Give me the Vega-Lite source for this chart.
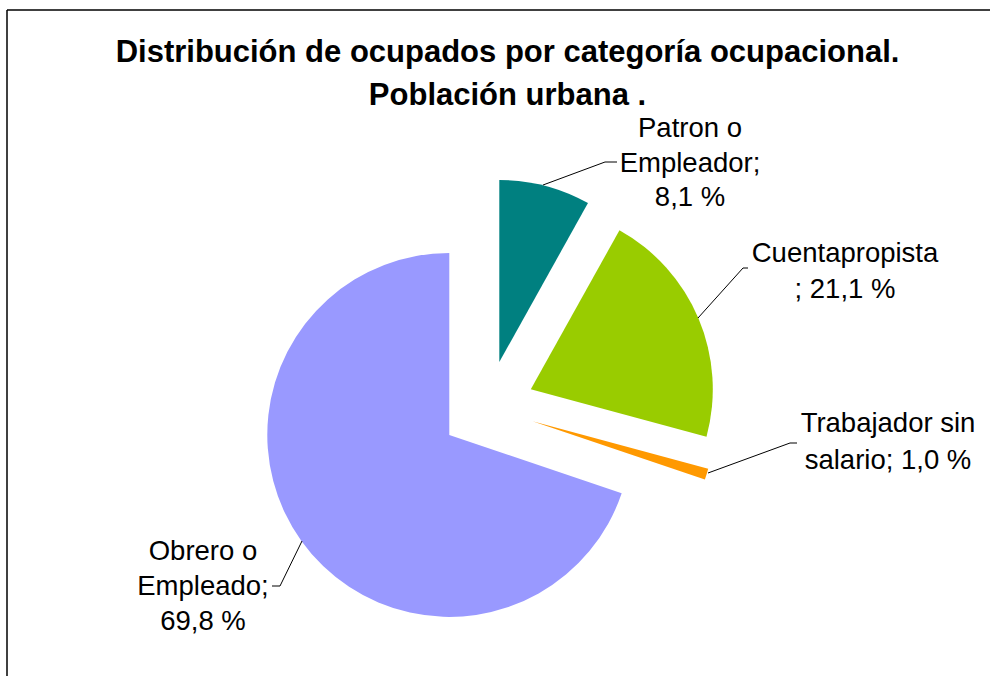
{
  "$schema": "https://vega.github.io/schema/vega-lite/v6.json",
  "width": 983,
  "height": 666,
  "autosize": {"type": "none"},
  "padding": {"left": 7, "top": 10, "right": 0, "bottom": 0},
  "background": "white",
  "config": {"view": {"stroke": null}, "font": "Liberation Sans"},
  "title": {
    "text": ["Distribución de ocupados por categoría ocupacional.", "Población urbana ."],
    "font": "Liberation Sans",
    "fontSize": 31,
    "fontWeight": "bold",
    "color": "black",
    "lineHeight": 43,
    "anchor": "middle",
    "offset": -103,
    "dx": 9
  },
  "data": {
    "values": [
      {"categoria": "Patron o Empleador", "orden": 1, "porcentaje": 8.1, "etiqueta": "Patron o\nEmpleador;\n8,1 %"},
      {"categoria": "Cuentapropista", "orden": 2, "porcentaje": 21.1, "etiqueta": "Cuentapropista\n; 21,1 %"},
      {"categoria": "Trabajador sin salario", "orden": 3, "porcentaje": 1.0, "etiqueta": "Trabajador sin\nsalario; 1,0 %"},
      {"categoria": "Obrero o Empleado", "orden": 4, "porcentaje": 69.8, "etiqueta": "Obrero o\nEmpleado;\n69,8 %"}
    ]
  },
  "transform": [
    {"stack": "porcentaje", "groupby": [], "sort": [{"field": "orden", "order": "ascending"}], "as": ["t0", "t1"]}
  ],
  "layer": [
    {
      "transform": [{"filter": "datum.orden == 1"}],
      "mark": {"type": "arc", "radius": 182, "x": 480.5, "y": 397.5, "xOffset": 11.8, "yOffset": -45.5},
      "encoding": {
        "theta": {"field": "t0", "type": "quantitative", "scale": {"domain": [0, 100]}},
        "theta2": {"field": "t1"},
        "color": {"field": "categoria", "type": "nominal", "legend": null,
          "scale": {"domain": ["Patron o Empleador", "Cuentapropista", "Trabajador sin salario", "Obrero o Empleado"], "range": ["#008080", "#99CC00", "#FF9900", "#9999FF"]}}
      }
    },
    {
      "transform": [{"filter": "datum.orden == 2"}],
      "mark": {"type": "arc", "radius": 182, "x": 480.5, "y": 397.5, "xOffset": 43.3, "yOffset": -18.3},
      "encoding": {
        "theta": {"field": "t0", "type": "quantitative", "scale": {"domain": [0, 100]}},
        "theta2": {"field": "t1"},
        "color": {"field": "categoria", "type": "nominal", "legend": null,
          "scale": {"domain": ["Patron o Empleador", "Cuentapropista", "Trabajador sin salario", "Obrero o Empleado"], "range": ["#008080", "#99CC00", "#FF9900", "#9999FF"]}}
      }
    },
    {
      "transform": [{"filter": "datum.orden == 3"}],
      "mark": {"type": "arc", "radius": 182, "x": 480.5, "y": 397.5, "xOffset": 45.0, "yOffset": 13.7},
      "encoding": {
        "theta": {"field": "t0", "type": "quantitative", "scale": {"domain": [0, 100]}},
        "theta2": {"field": "t1"},
        "color": {"field": "categoria", "type": "nominal", "legend": null,
          "scale": {"domain": ["Patron o Empleador", "Cuentapropista", "Trabajador sin salario", "Obrero o Empleado"], "range": ["#008080", "#99CC00", "#FF9900", "#9999FF"]}}
      }
    },
    {
      "transform": [{"filter": "datum.orden == 4"}],
      "mark": {"type": "arc", "radius": 182, "x": 480.5, "y": 397.5, "xOffset": -38.2, "yOffset": 27.4},
      "encoding": {
        "theta": {"field": "t0", "type": "quantitative", "scale": {"domain": [0, 100]}},
        "theta2": {"field": "t1"},
        "color": {"field": "categoria", "type": "nominal", "legend": null,
          "scale": {"domain": ["Patron o Empleador", "Cuentapropista", "Trabajador sin salario", "Obrero o Empleado"], "range": ["#008080", "#99CC00", "#FF9900", "#9999FF"]}}
      }
    },
    {
      "transform": [{"filter": "datum.orden == 1"}],
      "mark": {"type": "text", "x": 683, "y": 119, "align": "center", "baseline": "middle", "fontSize": 27.5, "lineHeight": 34.5, "lineBreak": "\n", "font": "Liberation Sans", "color": "black"},
      "encoding": {"text": {"field": "etiqueta", "type": "nominal"}}
    },
    {
      "transform": [{"filter": "datum.orden == 2"}],
      "mark": {"type": "text", "x": 838, "y": 244, "align": "center", "baseline": "middle", "fontSize": 27.5, "lineHeight": 36, "lineBreak": "\n", "font": "Liberation Sans", "color": "black"},
      "encoding": {"text": {"field": "etiqueta", "type": "nominal"}}
    },
    {
      "transform": [{"filter": "datum.orden == 3"}],
      "mark": {"type": "text", "x": 881, "y": 414, "align": "center", "baseline": "middle", "fontSize": 27.5, "lineHeight": 37, "lineBreak": "\n", "font": "Liberation Sans", "color": "black"},
      "encoding": {"text": {"field": "etiqueta", "type": "nominal"}}
    },
    {
      "transform": [{"filter": "datum.orden == 4"}],
      "mark": {"type": "text", "x": 196, "y": 542, "align": "center", "baseline": "middle", "fontSize": 27.5, "lineHeight": 35, "lineBreak": "\n", "font": "Liberation Sans", "color": "black"},
      "encoding": {"text": {"field": "etiqueta", "type": "nominal"}}
    },
    {
      "transform": [{"filter": "datum.orden == 1"}],
      "mark": {"type": "rule", "color": "black", "strokeWidth": 1},
      "encoding": {"x": {"value": 536}, "y": {"value": 175}, "x2": {"value": 598}, "y2": {"value": 152}}
    },
    {
      "transform": [{"filter": "datum.orden == 1"}],
      "mark": {"type": "rule", "color": "black", "strokeWidth": 1},
      "encoding": {"x": {"value": 598}, "y": {"value": 152}, "x2": {"value": 610}, "y2": {"value": 152}}
    },
    {
      "transform": [{"filter": "datum.orden == 2"}],
      "mark": {"type": "rule", "color": "black", "strokeWidth": 1},
      "encoding": {"x": {"value": 691}, "y": {"value": 308}, "x2": {"value": 736}, "y2": {"value": 258}}
    },
    {
      "transform": [{"filter": "datum.orden == 2"}],
      "mark": {"type": "rule", "color": "black", "strokeWidth": 1},
      "encoding": {"x": {"value": 736}, "y": {"value": 258}, "x2": {"value": 741}, "y2": {"value": 258}}
    },
    {
      "transform": [{"filter": "datum.orden == 3"}],
      "mark": {"type": "rule", "color": "black", "strokeWidth": 1},
      "encoding": {"x": {"value": 701}, "y": {"value": 463}, "x2": {"value": 783}, "y2": {"value": 433}}
    },
    {
      "transform": [{"filter": "datum.orden == 3"}],
      "mark": {"type": "rule", "color": "black", "strokeWidth": 1},
      "encoding": {"x": {"value": 783}, "y": {"value": 433}, "x2": {"value": 790}, "y2": {"value": 433}}
    },
    {
      "transform": [{"filter": "datum.orden == 4"}],
      "mark": {"type": "rule", "color": "black", "strokeWidth": 1},
      "encoding": {"x": {"value": 295}, "y": {"value": 531}, "x2": {"value": 273}, "y2": {"value": 576}}
    },
    {
      "transform": [{"filter": "datum.orden == 4"}],
      "mark": {"type": "rule", "color": "black", "strokeWidth": 1},
      "encoding": {"x": {"value": 273}, "y": {"value": 576}, "x2": {"value": 265}, "y2": {"value": 576}}
    },
    {
      "transform": [{"filter": "datum.orden == 1"}],
      "mark": {"type": "rule", "color": "black", "strokeWidth": 1.5},
      "encoding": {"x": {"value": 0}, "y": {"value": 0}, "x2": {"value": 0}, "y2": {"value": 666}}
    },
    {
      "transform": [{"filter": "datum.orden == 1"}],
      "mark": {"type": "rule", "color": "black", "strokeWidth": 1.5},
      "encoding": {"x": {"value": 0}, "y": {"value": 0}, "x2": {"value": 983}, "y2": {"value": 0}}
    }
  ]
}
